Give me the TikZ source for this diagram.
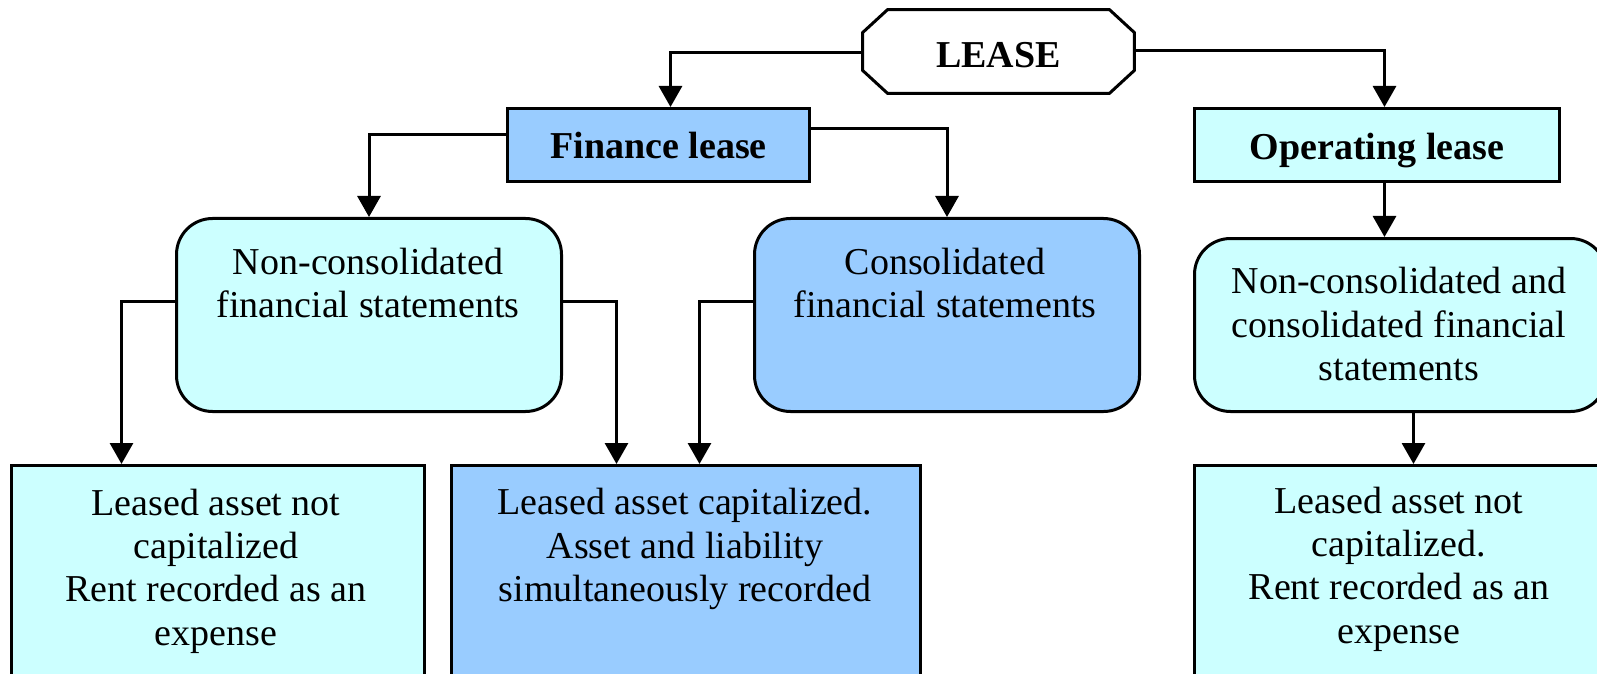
\documentclass[tikz,border=0pt]{standalone}
\usepackage{fontspec}
\setmainfont{Liberation Serif}
\usetikzlibrary{arrows.meta,calc}
\definecolor{cyanbox}{HTML}{CCFFFF}
\definecolor{bluebox}{HTML}{99CCFF}
\newcommand\diagfont{\fontsize{19}{21.65}\selectfont}
\begin{document}
\begin{tikzpicture}[x=0.5pt,y=-0.5pt,
  every node/.style={font=\diagfont},
  box/.style={draw=black, line width=1.5pt, inner sep=0pt, anchor=north west},
  rbox/.style={box, rounded corners=18pt},
  txt/.style={align=center, anchor=base, inner sep=0pt},
  conn/.style={line width=1.5pt},
  arr/.style={line width=1.5pt, -{Triangle[length=10.5pt,width=11.5pt]}}]
\useasboundingbox (0,0) rectangle (1597,674);
\clip (0,0) rectangle (1597,674);

% top (octagon)
\node[minimum width=135.5pt, minimum height=41.5pt, inner sep=0pt,
      font=\diagfont\bfseries, text height=16.5pt, text depth=0pt] (lease) at (998.5,51.5) {LEASE};
\draw[line width=1.5pt, line join=miter]
  ([xshift=12.5pt]lease.north west) -- ([xshift=-12.5pt]lease.north east)
  -- ([yshift=-11.5pt]lease.north east) -- ([yshift=11.5pt]lease.south east)
  -- ([xshift=-12.5pt]lease.south east) -- ([xshift=12.5pt]lease.south west)
  -- ([yshift=11.5pt]lease.south west) -- ([yshift=-11.5pt]lease.north west) -- cycle;

% second row
\node[box, fill=bluebox, minimum width=151pt, minimum height=36.5pt,
      font=\diagfont\bfseries, text height=13.5pt, text depth=0pt] (fin) at (506,107) {Finance lease};
\node[box, fill=cyanbox, minimum width=182.5pt, minimum height=36.5pt,
      font=\diagfont\bfseries, text height=14.5pt, text depth=0pt] (op) at (1193,107) {Operating lease};

% third row
\node[rbox, fill=cyanbox, minimum width=192.5pt, minimum height=96.5pt] (nc) at (175,217) {};
\node[rbox, fill=bluebox, minimum width=192.5pt, minimum height=96.5pt] (co) at (753,217) {};
\node[rbox, fill=cyanbox, minimum width=206pt, minimum height=86.5pt] (rr) at (1193,237) {};
\node[txt] (nct) at (368,317.5) {Non-consolidated\\financial statements};
\node[txt] (cot) at (945,317.5) {Consolidated\\financial statements};
\node[txt] (rrt) at (1399,380.5) {Non-consolidated and\\consolidated financial\\statements};

% bottom row
\node[box, fill=cyanbox, minimum width=206.5pt, minimum height=130pt] (bl) at (10,464) {};
\node[box, fill=bluebox, minimum width=234.5pt, minimum height=130pt] (bm) at (450,464) {};
\node[box, fill=cyanbox, minimum width=206pt, minimum height=130pt] (br) at (1193,464) {};
\node[txt] (blt) at (216,645) {Leased asset not\\capitalized\\Rent recorded as an\\expense};
\node[txt] (bmt) at (685,601.5) {Leased asset capitalized.\\Asset and liability\\simultaneously recorded};
\node[txt] (brt) at (1399,643) {Leased asset not\\capitalized.\\Rent recorded as an\\expense};

% connectors
\draw[arr] ([yshift=-0.5pt]lease.west) -| ([xshift=6pt]fin.north);
\draw[arr] ([yshift=0.5pt]lease.east) -| ([xshift=3.75pt]op.north);
\draw[arr] ([yshift=5.25pt]fin.west) -| (nc.north);
\draw[arr] ([yshift=8.25pt]fin.east) -| (co.north);
\draw[arr] ([yshift=6.75pt]nc.west) -| ([xshift=-48.25pt]bl.north);
\draw[arr] ([yshift=6.75pt]nc.east) -| ([xshift=-34.75pt]bm.north);
\draw[arr] ([yshift=6.75pt]co.west) -| ([xshift=6.75pt]bm.north);
\draw[arr] ([xshift=3.75pt]op.south) -- ([xshift=3.75pt]op.south |- rr.north);
\draw[arr] ([xshift=6.5pt]rr.south) -- ([xshift=6.5pt]rr.south |- br.north);
\end{tikzpicture}
\end{document}
